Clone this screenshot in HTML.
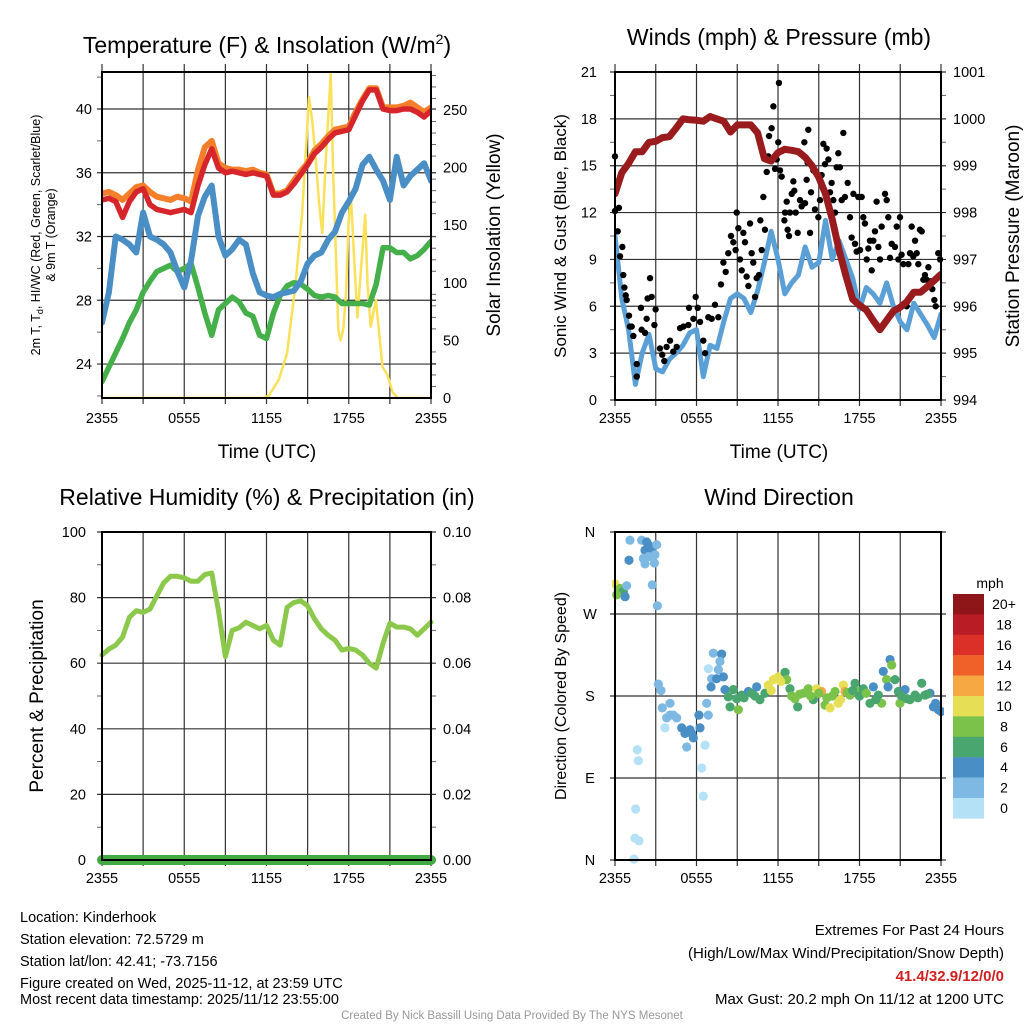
<!DOCTYPE html>
<html><head><meta charset="utf-8"><style>
body{margin:0;background:#fff}
svg{display:block;font-family:"Liberation Sans",Arial,sans-serif}
</style></head><body>
<svg id="chart" width="1024" height="1024" viewBox="0 0 1024 1024" xmlns="http://www.w3.org/2000/svg">
<defs>
<clipPath id="c1"><rect x="102" y="72" width="329" height="326"/></clipPath>
<clipPath id="c2"><rect x="615" y="72" width="326" height="328"/></clipPath>
<clipPath id="c3"><rect x="96" y="526" width="342" height="340"/></clipPath>
<clipPath id="c4"><rect x="612" y="528" width="332" height="336"/></clipPath>
</defs>
<g id="grids"></g>
<g id="marks"></g>
<g id="frames"></g>
<g id="labels" font-size="15" fill="#000">
<text x="267" y="53" text-anchor="middle" font-size="23">Temperature (F) &amp; Insolation (W/m<tspan font-size="14" dy="-9">2</tspan><tspan dy="9">)</tspan></text>
<text x="779" y="45" text-anchor="middle" font-size="23">Winds (mph) &amp; Pressure (mb)</text>
<text x="267" y="505" text-anchor="middle" font-size="23">Relative Humidity (%) &amp; Precipitation (in)</text>
<text x="779" y="505" text-anchor="middle" font-size="23">Wind Direction</text>
<text x="267" y="458" text-anchor="middle" font-size="19">Time (UTC)</text>
<text x="779" y="458" text-anchor="middle" font-size="19">Time (UTC)</text>
<text transform="translate(40,235) rotate(-90)" text-anchor="middle" font-size="12.5"><tspan x="0" dy="0">2m T, T<tspan font-size="9" dy="3">d</tspan><tspan dy="-3">, HI/WC (Red, Green, Scarlet/Blue)</tspan></tspan><tspan x="0" dy="15">&amp; 9m T (Orange)</tspan></text>
<text transform="translate(500,235) rotate(-90)" text-anchor="middle" font-size="19">Solar Insolation (Yellow)</text>
<text transform="translate(566,236) rotate(-90)" text-anchor="middle" font-size="17">Sonic Wind &amp; Gust (Blue, Black)</text>
<text transform="translate(1019,236) rotate(-90)" text-anchor="middle" font-size="19">Station Pressure (Maroon)</text>
<text transform="translate(43,696) rotate(-90)" text-anchor="middle" font-size="19">Percent &amp; Precipitation</text>
<text transform="translate(566,696) rotate(-90)" text-anchor="middle" font-size="16">Direction (Colored By Speed)</text>
<text x="990" y="588" text-anchor="middle" font-size="14">mph</text>
<g font-size="14.5">
<text x="20" y="922">Location: Kinderhook</text>
<text x="20" y="944">Station elevation: 72.5729 m</text>
<text x="20" y="966">Station lat/lon: 42.41; -73.7156</text>
<text x="20" y="988">Figure created on Wed, 2025-11-12, at 23:59 UTC</text>
<text x="20" y="1004">Most recent data timestamp: 2025/11/12 23:55:00</text>
</g>
<g font-size="15" text-anchor="end">
<text x="1004" y="935">Extremes For Past 24 Hours</text>
<text x="1004" y="958">(High/Low/Max Wind/Precipitation/Snow Depth)</text>
<text x="1004" y="981" fill="#d02020" font-weight="bold">41.4/32.9/12/0/0</text>
<text x="1004" y="1004">Max Gust: 20.2 mph On 11/12 at 1200 UTC</text>
</g>
<text x="512" y="1019" text-anchor="middle" font-size="11.5" fill="#999">Created By Nick Bassill Using Data Provided By The NYS Mesonet</text>
</g>
</svg>
<script>
const hours=[0,0.5,1,1.5,2,2.5,3,3.5,4,4.5,5,5.5,6,6.5,7,7.5,8,8.5,9,9.5,10,10.5,11,11.5,12,12.5,13,13.5,14,14.5,15,15.5,16,16.5,17,17.5,18,18.5,19,19.5,20,20.5,21,21.5,22,22.5,23,23.5,24];
const temp2m=[34.3,34.4,34.2,33.2,34.2,34.8,35.0,34.0,33.7,33.6,33.5,33.6,33.7,33.5,35.2,36.5,37.5,36.3,36.0,36.1,36.0,35.9,36.0,35.9,35.8,34.6,34.6,34.8,35.3,35.9,36.5,37.2,37.6,38.1,38.5,38.6,38.7,39.6,40.5,41.2,41.2,40.0,39.9,39.9,40.0,40.0,39.8,39.5,39.9];
const temp9m=[34.7,34.8,34.6,34.3,34.7,35.1,35.2,34.8,34.5,34.4,34.3,34.5,34.4,34.2,36.2,37.6,38.0,36.6,36.3,36.2,36.2,36.1,36.2,36.0,35.9,34.7,34.7,34.9,35.5,36.1,36.6,37.4,37.8,38.3,38.7,38.8,38.9,39.8,40.6,41.3,41.3,40.1,40.1,40.1,40.2,40.4,40.1,39.8,40.1];
const windChill=[26.6,28.5,32.0,31.8,31.5,31.0,33.5,32.0,31.8,31.5,31.0,29.8,28.8,30.5,33.3,34.5,35.2,32.0,30.8,31.2,31.8,31.5,29.7,28.5,28.3,28.2,28.4,28.5,28.6,29.2,30.3,30.8,31.0,31.8,32.3,33.5,34.2,35.0,36.5,37.0,36.2,35.5,34.3,37.0,35.2,35.8,36.2,36.6,35.5];
const dewpoint=[22.9,23.8,24.7,25.6,26.6,27.4,28.5,29.2,29.8,30.0,30.2,29.8,30.0,30.3,28.8,27.2,25.8,27.4,27.8,28.2,27.9,27.2,27.0,25.8,25.6,27.2,28.3,28.9,29.1,29.0,28.7,28.3,28.2,28.3,28.2,27.8,27.8,27.8,27.8,27.7,29.0,31.3,31.3,31.0,31.0,30.6,30.8,31.2,31.7];
const solarHours=[0,11.68,12.17,12.9,13.5,14.1,14.6,15.1,15.34,15.6,15.83,16.07,16.3,16.68,16.85,17.05,17.24,17.4,17.6,17.8,17.98,18.15,18.4,18.63,18.88,19.2,19.37,19.6,19.98,20.46,20.83,21.2,21.56,24];
const solar=[0,0,2,16,39,97,160,261,240,206,170,143,200,282,200,131,60,50,60,91,150,178,120,70,110,159,100,62,85,27,20,5,0,0];
const windSpeed=[10.5,6.5,4.5,1.0,3.0,4.2,2.0,1.8,2.6,3.0,3.5,4.3,4.5,1.5,3.5,3.3,5.0,6.5,6.8,6.5,5.6,7.0,8.8,10.8,9.0,6.8,7.5,8.0,9.8,8.5,8.8,11.5,9.0,10.2,9.0,7.8,5.8,7.2,6.8,6.2,7.5,6.0,5.0,4.5,6.2,5.5,4.8,4.0,5.5];
const pressure=[998.4,998.85,999.05,999.3,999.3,999.5,999.52,999.6,999.62,999.8,1000.0,999.98,999.97,999.95,1000.05,1000.0,999.95,999.72,999.87,999.87,999.87,999.7,999.15,999.1,999.28,999.35,999.33,999.3,999.18,999.0,998.75,998.4,997.85,997.2,996.65,996.15,996.02,995.92,995.7,995.5,995.7,995.9,995.98,996.1,996.3,996.3,996.42,996.55,996.68];
const gustHours=[0,0,0.2,0.29,0.37,0.54,0.61,0.69,0.79,0.86,1.03,1.1,1.23,1.35,1.6,1.6,1.91,1.96,2.21,2.33,2.4,2.58,2.7,2.9,2.99,3.31,3.48,3.63,3.8,4.05,4.29,4.54,4.79,5.03,5.4,5.45,5.77,5.94,6.09,6.26,6.5,6.63,6.87,7.12,7.36,7.61,7.8,7.98,8.15,8.34,8.54,8.71,8.88,8.96,9.08,9.2,9.33,9.45,9.57,9.69,9.82,9.94,10.06,10.18,10.31,10.43,10.6,10.7,10.8,10.92,11.04,11.17,11.29,11.34,11.53,11.66,11.78,11.9,12.02,12.07,12.15,12.27,12.47,12.52,12.64,12.71,12.81,12.88,13.01,13.13,13.2,13.3,13.45,13.62,13.74,13.94,13.99,14.11,14.18,14.23,14.36,14.43,14.6,14.72,14.97,15.09,15.21,15.34,15.46,15.58,15.71,15.83,15.95,16.07,16.2,16.32,16.44,16.56,16.69,16.81,16.93,17.13,17.3,17.42,17.55,17.67,17.79,17.91,18.04,18.16,18.28,18.4,18.53,18.65,18.77,18.9,19.02,19.14,19.26,19.39,19.51,19.63,19.88,20.0,20.12,20.25,20.37,20.61,20.74,20.86,20.98,21.1,21.23,21.47,21.6,21.72,21.84,21.96,22.09,22.21,22.33,22.45,22.58,22.7,22.82,22.94,23.07,23.26,23.36,23.51,23.61,23.8,23.93];
const gustMph=[15.6,12.1,10.8,12.3,9.2,9.8,8.0,7.2,6.7,6.4,5.4,4.7,4.7,4.1,2.3,1.5,5.9,4.5,4.3,5.2,6.5,7.8,6.6,4.8,5.8,3.3,2.9,2.5,3.4,3.8,3.1,3.4,4.6,4.7,4.8,5.9,5.2,6.6,5.9,5.0,3.8,3.0,5.3,5.2,6.1,5.3,7.4,8.8,8.2,9.4,10.5,10.1,9.6,12.0,11.0,9.0,8.3,10.7,10.1,7.9,7.3,11.3,9.4,8.8,6.6,7.8,8.0,11.5,9.6,13.0,10.9,14.6,15.6,16.9,17.4,18.8,14.8,15.4,16.5,20.3,14.7,14.3,11.5,12.0,12.7,10.9,10.5,12.0,13.2,14.0,13.4,12.0,10.7,12.8,12.4,16.5,12.6,14.1,15.2,17.3,10.7,13.3,14.7,12.2,11.7,12.8,14.4,16.4,15.1,16.1,15.4,13.3,13.9,12.8,12.0,14.9,15.8,14.9,12.8,17.1,13.0,13.9,11.7,10.4,13.2,10.0,9.5,13.0,9.6,13.0,11.7,11.3,9.0,9.7,10.2,8.3,10.2,10.8,12.7,9.8,9.0,11.1,13.2,12.8,11.7,9.1,10.0,9.8,11.1,9.0,11.7,9.3,8.7,6.0,8.7,9.4,11.1,9.2,10.2,9.4,8.7,10.9,10.8,7.7,8.0,7.7,8.5,7.6,7.1,6.4,6.0,9.4,9.0];
const rhValues=[62.5,64.3,65.5,68,74,76,75.5,76.5,80.5,84.5,86.5,86.5,86,85,85,87,87.5,76,62,70,70.8,72.5,71.5,70.5,71.5,67,65.5,77,78.5,79,77.5,73.5,70.5,68.5,67,64,64.5,64,62.5,60,58.5,66,72.2,71,71,70.5,68.5,70.5,72.5];
const precipValues=[0,0,0,0,0,0,0,0,0,0,0,0,0,0,0,0,0,0,0,0,0,0,0,0,0,0,0,0,0,0,0,0,0,0,0,0,0,0,0,0,0,0,0,0,0,0,0,0,0];
const dirHours=[1.10,1.96,2.33,2.45,2.70,3.07,2.21,2.09,2.45,2.94,1.03,2.21,2.90,2.75,3.12,0,0.25,0.37,0.61,0.86,0.74,0.12,3.19,3.39,3.48,3.80,4.05,4.29,4.54,4.05,3.68,4.91,5.15,5.52,5.77,5.64,6.18,6.26,5.28,6.63,6.75,6.87,6.38,6.50,1.64,1.72,1.52,1.47,1.77,1.40,6.87,7.24,7.85,7.73,7.61,7.12,7.07,7.48,7.98,8.10,8.34,8.71,8.47,8.96,9.08,9.33,9.82,10.06,10.43,10.67,11.04,11.29,11.66,12.02,12.52,12.64,12.88,13.25,13.45,13.87,14.23,14.60,14.85,15.21,15.46,15.83,16.20,16.44,16.81,16.93,17.30,17.67,17.91,18.28,18.77,19.02,19.39,19.63,19.75,20.00,20.25,20.37,20.61,20.86,20.98,21.35,21.72,22.09,22.58,22.82,23.19,23.44,23.80,24,9.5,10.3,11.5,12.2,13.0,13.6,14.4,15.0,15.6,16.0,16.6,17.1,17.5,18.0,18.5,19.2,20.1,21.1,21.5,22.3,23.0,23.6];
const dirDegrees=[351,351,349,346,342,346,340,331,333,335,329,325,326,302,279,303,296,298,295,301,289,291,193,186,167,156,159,159,156,172,145,145,139,143,134,139,159,145,124,126,172,159,101,70,121,109,56,24,21,1,210,227,226,218,209,199,190,199,201,187,179,187,168,177,165,181,185,183,190,176,183,192,198,201,206,198,188,177,168,183,188,176,188,185,170,167,185,172,192,185,181,194,185,188,172,190,181,172,207,198,220,214,198,185,172,187,176,181,194,181,183,168,165,163,178,180,186,196,180,182,180,183,178,180,176,184,186,180,183,176,190,180,177,178,182,172];
const dirSpeed=[3,3,5,5,5,3,5,3,3,3,5,3,3,3,3,11,9,9,7,3,5,9,3,3,3,3,3,3,3,3,1,5,5,5,5,5,5,5,3,1,3,3,1,1,1,1,1,1,1,1,1,3,5,3,3,3,5,5,5,5,7,7,7,7,9,7,5,7,5,7,7,11,11,11,7,9,7,9,7,9,9,7,11,13,9,11,9,11,11,13,9,7,9,7,7,5,7,9,5,9,5,9,7,7,9,5,7,7,7,7,5,5,5,5,7,7,11,11,9,9,9,9,9,9,11,9,7,7,9,7,5,7,7,7,7,5];
const speedBins=["20+","18","16","14","12","10","8","6","4","2","0"];
const binColors=["#8e1619","#b91c25","#db3027","#ef6129","#f6a843","#e6df55","#7ac24a","#48a66e","#4a8ec6","#7db9e3","#b5e1f7"];
const xTickLabels=["2355","0555","1155","1755","2355"];
const tempTicks=[24,28,32,36,40];
const solarTicks=[0,50,100,150,200,250];
const windTicks=[0,3,6,9,12,15,18,21];
const pressTicks=[994,995,996,997,998,999,1000,1001];
const rhTicks=[0,20,40,60,80,100];
const precipTicks=["0.00","0.02","0.04","0.06","0.08","0.10"];
const dirTicks=["N","E","S","W","N"];

const NS="http://www.w3.org/2000/svg";
const G=id=>document.getElementById(id);
function mk(tag,attrs,parent){const e=document.createElementNS(NS,tag);for(const k in attrs)e.setAttribute(k,attrs[k]);parent.appendChild(e);return e;}
const P1={x0:102,x1:431,y0:72,y1:398},P2={x0:615,x1:941,y0:72,y1:400},P3={x0:102,x1:431,y0:532,y1:860},P4={x0:615,x1:941,y0:532,y1:860};
const xs=P=>h=>P.x0+(P.x1-P.x0)*h/24;
const x1=xs(P1),x2=xs(P2),x3=xs(P3),x4=xs(P4);
const yTemp=t=>109+(40-t)*15.94;
const ySolar=s=>398-1.152*s;
const yWind=w=>400-w*328/21;
const yPress=p=>400-(p-994)*328/7;
const yRH=r=>860-r*3.28;
const yPrecip=v=>860-v*3280;
const yDir=d=>860-d*328/360;
function colorFor(s){let i=Math.min(10,Math.floor(s/2));return binColors[10-i];}

const grids=G('grids'),marks=G('marks'),frames=G('frames'),labels=G('labels');
[[P1,x1],[P2,x2],[P3,x3],[P4,x4]].forEach(([P,xf],pi)=>{
  for(let h=0;h<=24;h+=3){const l=mk('line',{x1:xf(h),x2:xf(h),y1:P.y0-(pi==1||pi==0?8:0),y2:P.y1+6,stroke:'#333','stroke-width':1.2},grids);
  
  }
});
function hgrid(P,ys,vals){vals.forEach(v=>{const y=ys(v);const l=mk('line',{x1:P.x0-5,x2:P.x1+5,y1:y,y2:y,stroke:'#333','stroke-width':1.2},grids);

});}
hgrid(P1,yTemp,tempTicks);hgrid(P2,yWind,windTicks);hgrid(P3,yRH,rhTicks);hgrid(P4,yDir,[0,90,180,270,360]);
function minor(x,ys,vals,dir){vals.forEach(v=>{const y=ys(v);mk('line',{x1:x,x2:x+dir*5,y1:y,y2:y,stroke:'#666','stroke-width':1},grids);});}
minor(P1.x0,yTemp,[22,26,30,34,38,42],-1);
minor(P1.x1,ySolar,[10,20,30,40,60,70,80,90,110,120,130,140,160,170,180,190,210,220,230,240,260,270,280],1);
minor(P2.x1,yPress,[994.5,995.5,996.5,997.5,998.5,999.5,1000.5],1);
minor(P2.x0,yWind,[1.5,4.5,7.5,10.5,13.5,16.5,19.5],-1);
minor(P3.x0,yRH,[10,30,50,70,90],-1);
minor(P3.x1,yPrecip,[0.01,0.03,0.05,0.07,0.09],1);

function line(P,clip,xf,yf,xsArr,ysArr,color,w,name){
  const pts=xsArr.map((h,i)=>xf(h).toFixed(1)+','+yf(ysArr[i]).toFixed(1)).join(' ');
  const e=mk('polyline',{points:pts,fill:'none',stroke:color,'stroke-width':w,'stroke-linejoin':'round','stroke-linecap':'round','clip-path':'url(#'+clip+')'},marks);
  
  
}
line(P1,'c1',x1,ySolar,solarHours,solar,'#fbe059',2.5,'solar-insolation-line');
line(P1,'c1',x1,yTemp,hours,dewpoint,'#45b04a',5.5,'dewpoint-line');
line(P1,'c1',x1,yTemp,hours,windChill,'#4a8ec6',6,'wind-chill-line');
line(P1,'c1',x1,yTemp,hours,temp9m,'#f47f2b',6,'temp-9m-line');
line(P1,'c1',x1,yTemp,hours,temp2m,'#d7262b',5.5,'temp-2m-line');
line(P2,'c2',x2,yWind,hours,windSpeed,'#5a9fd6',5,'sonic-wind-line');
gustHours.forEach((h,i)=>{const c=mk('circle',{cx:x2(h),cy:yWind(gustMph[i]),r:3.2,fill:'#000'},marks);

});
line(P2,'c2',x2,yPress,hours,pressure,'#991b1e',7,'pressure-line');
line(P3,'c3',x3,yRH,hours,rhValues,'#8cc84b',5,'relative-humidity-line');
line(P3,'c3',x3,yPrecip,hours,precipValues,'#44aa44',10,'precipitation-line');
dirHours.forEach((h,i)=>{const c=mk('circle',{cx:x4(h),cy:yDir(dirDegrees[i]),r:4.6,fill:colorFor(dirSpeed[i]),'clip-path':'url(#c4)'},marks);

});
speedBins.forEach((lab,i)=>{const y=594+i*20.4;
 const r=mk('rect',{x:953,y:y,width:31,height:20.6,fill:binColors[i]},marks);
 
 
 const t=mk('text',{x:1004,y:y+15,'text-anchor':'middle','font-size':14},labels);t.textContent=lab;
 
 });
[P1,P2,P3,P4].forEach(P=>{const r=mk('rect',{x:P.x0,y:P.y0,width:P.x1-P.x0,height:P.y1-P.y0,fill:'none',stroke:'#000','stroke-width':2},frames);

});
function txt(x,y,s,anchor,name){const t=mk('text',{x:x,y:y,'text-anchor':anchor,'font-size':14.5},labels);t.textContent=s;

}
[[P1,x1,423],[P2,x2,423],[P3,x3,883],[P4,x4,883]].forEach(([P,xf,y])=>{xTickLabels.forEach((s,i)=>txt(xf(i*6),y,s,'middle','x-tick-label'));});
tempTicks.forEach(v=>txt(92,yTemp(v)+5,String(v),'end','temp-tick-label'));
solarTicks.forEach(v=>txt(443,ySolar(v)+5,String(v),'start','solar-tick-label'));
windTicks.forEach(v=>txt(597,yWind(v)+5,String(v),'end','wind-tick-label'));
pressTicks.forEach(v=>txt(953,yPress(v)+5,String(v),'start','pressure-tick-label'));
rhTicks.forEach(v=>txt(86,yRH(v)+5,String(v),'end','rh-tick-label'));
precipTicks.forEach(v=>txt(443,yPrecip(parseFloat(v))+5,v,'start','precip-tick-label'));
dirTicks.forEach((s,i)=>txt(590,yDir(i*90)+5,s,'middle','direction-tick-label'));
</script>
</body></html>
